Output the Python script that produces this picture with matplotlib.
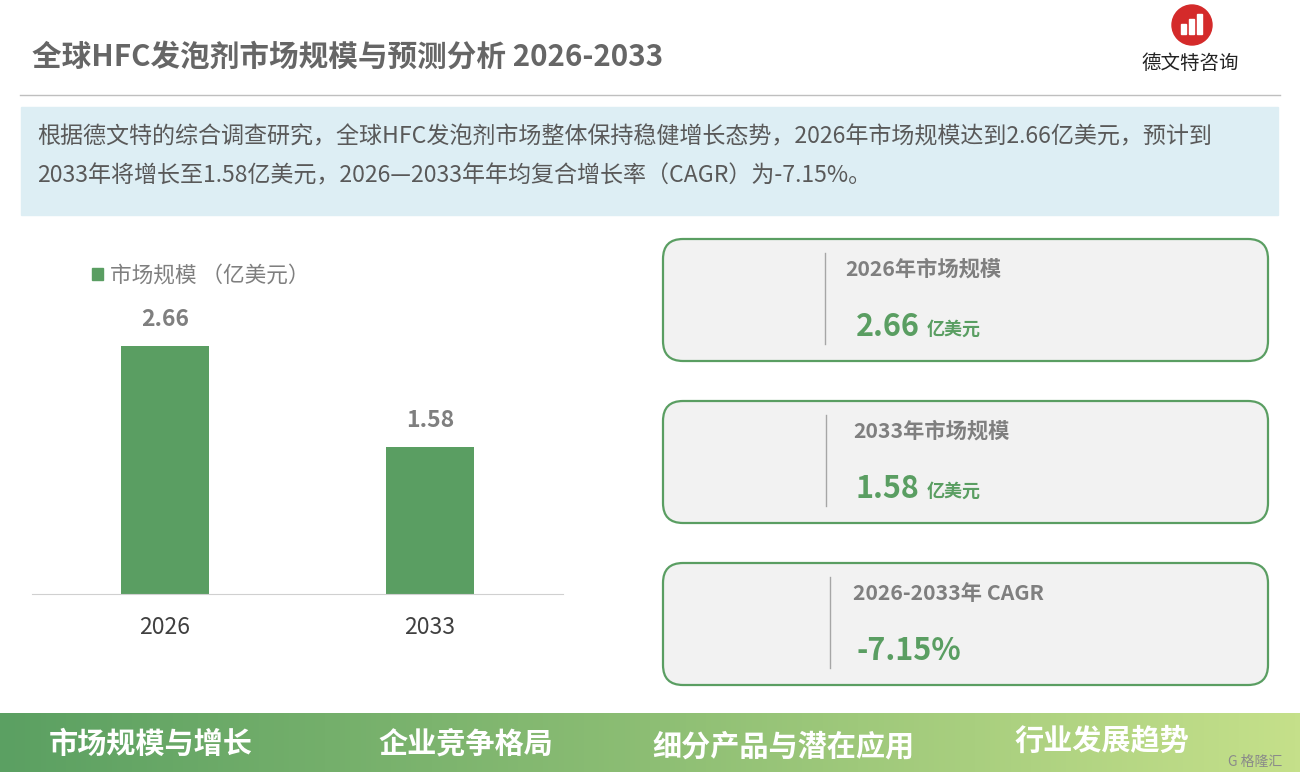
import matplotlib
matplotlib.use("Agg")
import matplotlib.pyplot as plt
import numpy as np
from matplotlib.patches import FancyBboxPatch, Rectangle, Circle
from matplotlib.colors import LinearSegmentedColormap

plt.rcParams['font.family'] = ['Noto Sans CJK SC', 'DejaVu Sans']

# ---- data ----
years = ["2026", "2033"]
market_size = [2.66, 1.58]
cagr_text = "-7.15%"
series_label = "市场规模 （亿美元）"
title = "全球HFC发泡剂市场规模与预测分析 2026-2033"
summary_lines = ["根据德文特的综合调查研究，全球HFC发泡剂市场整体保持稳健增长态势，2026年市场规模达到2.66亿美元，预计到",
                 "2033年将增长至1.58亿美元，2026—2033年年均复合增长率（CAGR）为-7.15%。"]
card_titles = ["2026年市场规模", "2033年市场规模", "2026-2033年 CAGR"]
card_values = ["2.66", "1.58", cagr_text]
card_units = ["亿美元", "亿美元", ""]
nav_items = ["市场规模与增长", "企业竞争格局", "细分产品与潜在应用", "行业发展趋势"]

W, H = 1300, 780
fig = plt.figure(figsize=(W / 100, H / 100), dpi=100)
bg = fig.add_axes([0, 0, 1, 1])
bg.set_xlim(0, W)
bg.set_ylim(H, 0)
bg.axis('off')

green = '#5A9E62'
gray = '#7F7F7F'

# title
bg.text(32, 57, title, fontsize=21.3, fontweight='bold', color='#666666', va='center', ha='left')
bg.plot([20, 1280], [95, 95], color='#BFBFBF', lw=1)

# logo
bg.add_patch(Circle((1192, 25), 20, color='#D42A2A', zorder=2))
for bx, bh in [(1183, 10), (1191, 15), (1199, 20)]:
    bg.add_patch(Rectangle((bx - 2.5, 34 - bh), 5, bh, color='white', zorder=3))
bg.text(1190, 63, "德文特咨询", fontsize=14, color='#222222', ha='center', va='center')

# summary box
bg.add_patch(Rectangle((21, 107), 1257, 108, color='#DDEEF4', zorder=1))
bg.text(37, 137, summary_lines[0], fontsize=16.6, color='#595959', va='center', ha='left')
bg.text(37, 176, summary_lines[1], fontsize=16.6, color='#595959', va='center', ha='left')

# cards
card_tops = [239, 401, 563]
div_x = [825, 826, 830]
title_x = [845, 853, 853]
val_x = [856, 856, 856]
for i, top in enumerate(card_tops):
    bg.add_patch(FancyBboxPatch((663 + 12, top + 12), 605 - 24, 122 - 24,
                                boxstyle="round,pad=12,rounding_size=20",
                                fc='#F2F2F2', ec=green, lw=1.6, zorder=2))
    bg.plot([div_x[i], div_x[i]], [top + 14, top + 105], color='#A6A6A6', lw=1, zorder=3)
    bg.text(title_x[i], top + 30, card_titles[i], fontsize=15.3, fontweight='bold', color=gray,
            va='center', ha='left', zorder=4)
    bg.text(val_x[i], top + 88, card_values[i], fontsize=22, fontweight='bold', color=green,
            va='center', ha='left', zorder=4)
    if card_units[i]:
        bg.text(927, top + 90, card_units[i], fontsize=13, fontweight='bold', color=green,
                va='center', ha='left', zorder=4)

# bottom banner gradient
grad = np.linspace(0, 1, 256).reshape(1, -1)
cmap = LinearSegmentedColormap.from_list('g', ['#5BA062', '#8DBE74', '#C5E08A'])
bg.imshow(grad, extent=[0, W, 772, 713], aspect='auto', cmap=cmap, zorder=1)
bg.set_xlim(0, W)
bg.set_ylim(H, 0)
nav_x = [151, 466, 783, 1102]
nav_y = [744, 743, 746, 741]
for x, y, s in zip(nav_x, nav_y, nav_items):
    bg.text(x, y, s, fontsize=21, fontweight='bold', color='white', ha='center', va='center', zorder=3)
bg.text(1255, 762, "G 格隆汇", fontsize=10, color='#8A8A8A', ha='center', va='center', zorder=3)

# bar chart
ax = fig.add_axes([32 / W, 1 - 594 / H, (563 - 32) / W, (594 - 250) / H])
x = np.arange(len(years))
ax.bar(x, market_size, width=0.33, color=green, zorder=2)
ax.set_xlim(-0.502, 1.502)
ax.set_ylim(0, 344 / 93.1)
for xi, v in zip(x, market_size):
    ax.text(xi, v + 0.16, f"{v:.2f}", ha='center', va='bottom', fontsize=16.5, fontweight='bold', color=gray)
ax.set_xticks(x)
ax.set_xticklabels(years, fontsize=16.5, color='#404040')
ax.tick_params(axis='x', length=0, pad=16)
ax.set_yticks([])
for s in ['top', 'right', 'left']:
    ax.spines[s].set_visible(False)
ax.spines['bottom'].set_color('#D0D0D0')
ax.patch.set_alpha(0)
# legend
bg.add_patch(Rectangle((92, 268), 11, 12, color=green))
bg.text(110, 276, series_label, fontsize=15.6, color=gray, va='center', ha='left')

fig.savefig('out.png', dpi=100)
